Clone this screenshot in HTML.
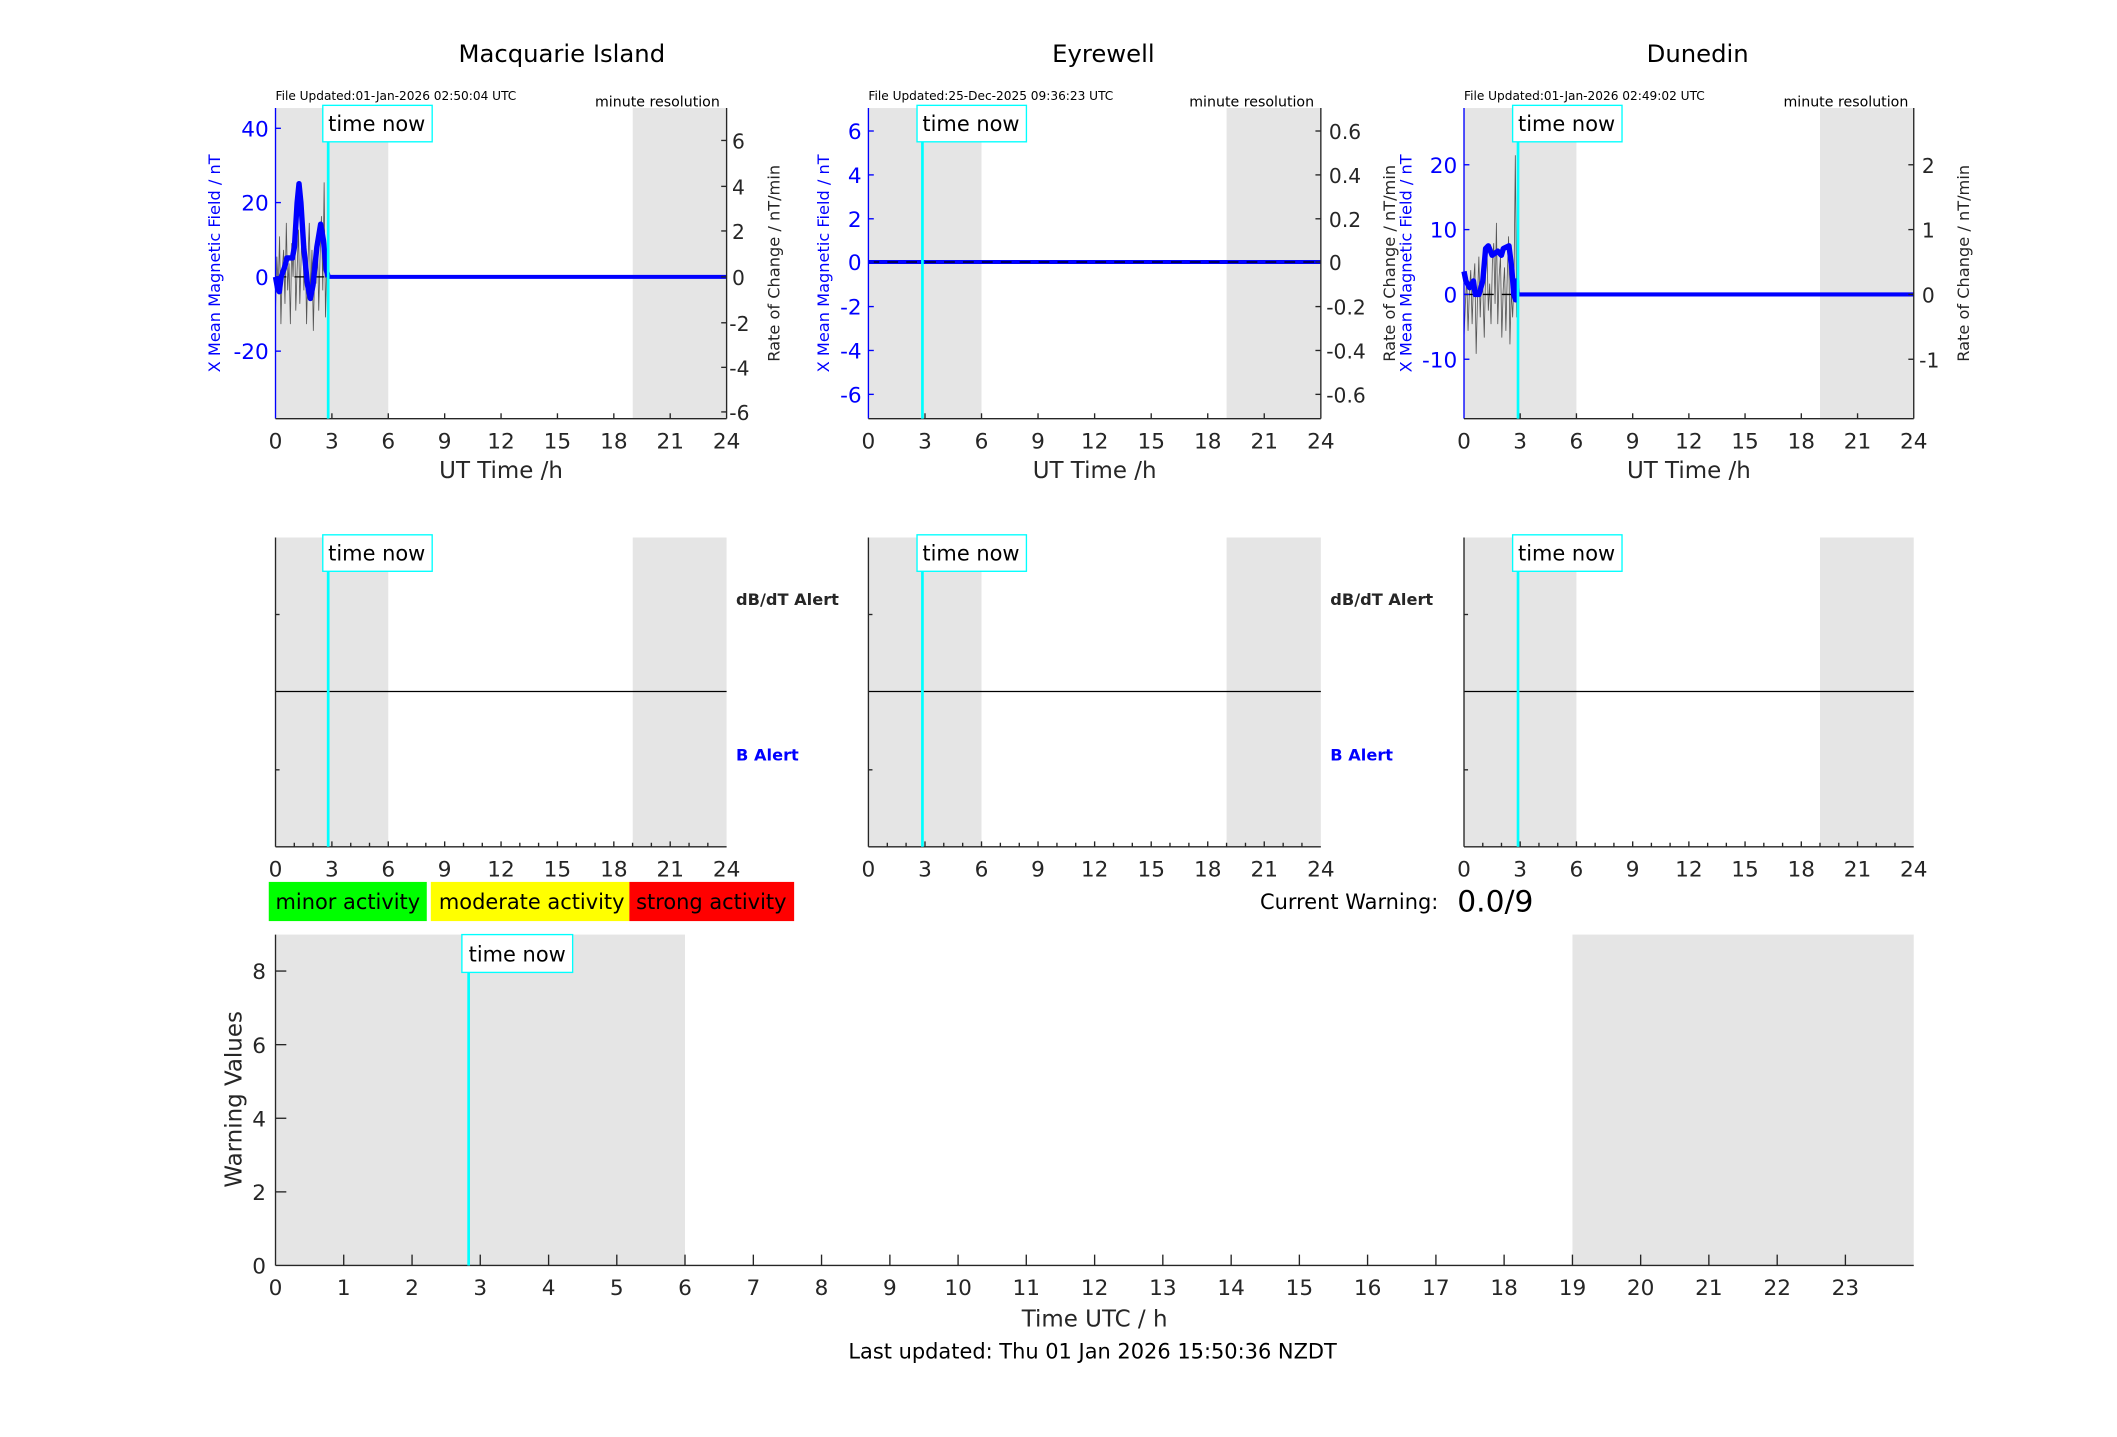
<!DOCTYPE html>
<html><head><meta charset="utf-8">
<style>
html,body{margin:0;padding:0;background:#fff;}
svg{display:block;}
text{font-family:"DejaVu Sans","Liberation Sans",sans-serif;}
</style></head>
<body>
<svg width="2117" height="1437" viewBox="0 0 1567.5 1064" preserveAspectRatio="none" xmlns="http://www.w3.org/2000/svg">
<rect width="1567.5" height="1064" fill="#fff"/>

<!-- ===== Titles ===== -->
<g font-size="18" text-anchor="middle" fill="#000">
<text x="416" y="46">Macquarie Island</text>
<text x="817" y="46">Eyrewell</text>
<text x="1257" y="46">Dunedin</text>
</g>

<!-- ===== Panel 1 top ===== -->
<g>
<rect x="204" y="80" width="83.5" height="230" fill="#e5e5e5"/>
<rect x="468.5" y="80" width="69.5" height="230" fill="#e5e5e5"/>
<text x="204" y="74" font-size="9" fill="#000">File Updated:01-Jan-2026 02:50:04 UTC</text>
<text x="533" y="79" font-size="10.5" text-anchor="end" fill="#000">minute resolution</text>
<polyline fill="none" stroke="#555" stroke-width="0.6" points="204,230 205,190 206,215 207,175 208,240 209,200 210,185 211,225 212,165 213,215 214,195 215,240 216,180 217,205 218,160 219,230 220,200 221,170 222,225 223,190 224,150 225,215 226,180 227,240 228,195 229,165 230,220 231,185 232,245 233,200 234,210 235,175 236,230 237,190 238,160 239,215 240,135 241,235 242,195 243,205"/>
<line x1="204" y1="205" x2="538" y2="205" stroke="#000" stroke-width="1" stroke-dasharray="8,6"/>
<line x1="243" y1="205" x2="538" y2="205" stroke="#0000ff" stroke-width="3"/>
<polyline fill="none" stroke="#0000ff" stroke-width="4" stroke-linejoin="round" points="204,205 205.4,213 206.8,216 208.2,205 211,197 212.4,191 216.5,191 218,183 220,150 221.4,136 222.8,150 224.9,183 227.7,211 229.8,221 231.8,211 234.6,183 237.4,166 239.5,178 241.6,200 243,205"/>
<line x1="204" y1="80" x2="204" y2="310" stroke="#0000ff" stroke-width="1"/>
<line x1="538" y1="80" x2="538" y2="310" stroke="#262626" stroke-width="1"/>
<line x1="204" y1="310" x2="538" y2="310" stroke="#262626" stroke-width="1"/>
<g stroke="#0000ff"><line x1="204" y1="95" x2="208" y2="95"/><line x1="204" y1="150" x2="208" y2="150"/><line x1="204" y1="205" x2="208" y2="205"/><line x1="204" y1="260" x2="208" y2="260"/></g>
<g stroke="#262626"><line x1="534" y1="104" x2="538" y2="104"/><line x1="534" y1="138" x2="538" y2="138"/><line x1="534" y1="171" x2="538" y2="171"/><line x1="534" y1="205" x2="538" y2="205"/><line x1="534" y1="239" x2="538" y2="239"/><line x1="534" y1="272" x2="538" y2="272"/><line x1="534" y1="305" x2="538" y2="305"/>
<line x1="245.75" y1="310" x2="245.75" y2="306"/><line x1="287.5" y1="310" x2="287.5" y2="306"/><line x1="329.25" y1="310" x2="329.25" y2="306"/><line x1="371" y1="310" x2="371" y2="306"/><line x1="412.75" y1="310" x2="412.75" y2="306"/><line x1="454.5" y1="310" x2="454.5" y2="306"/><line x1="496.25" y1="310" x2="496.25" y2="306"/></g>
<g font-size="16" fill="#0000ff" text-anchor="end"><text x="199" y="101">40</text><text x="199" y="156">20</text><text x="199" y="211">0</text><text x="199" y="266">-20</text></g>
<g font-size="15" fill="#262626"><text x="542" y="110">6</text><text x="542" y="144">4</text><text x="542" y="177">2</text><text x="542" y="211">0</text><text x="540" y="245">-2</text><text x="540" y="278">-4</text><text x="540" y="311">-6</text></g>
<g font-size="16" fill="#262626" text-anchor="middle"><text x="204" y="332">0</text><text x="245.75" y="332">3</text><text x="287.5" y="332">6</text><text x="329.25" y="332">9</text><text x="371" y="332">12</text><text x="412.75" y="332">15</text><text x="454.5" y="332">18</text><text x="496.25" y="332">21</text><text x="538" y="332">24</text></g>
<text x="371" y="354" font-size="17" fill="#262626" text-anchor="middle">UT Time /h</text>
<text transform="translate(163,195) rotate(-90)" font-size="12" fill="#0000ff" text-anchor="middle">X Mean Magnetic Field / nT</text>
<text transform="translate(577,195) rotate(-90)" font-size="12" fill="#262626" text-anchor="middle">Rate of Change / nT/min</text>
<line x1="243" y1="80" x2="243" y2="310" stroke="#00ffff" stroke-width="2"/>
<rect x="239" y="78" width="81" height="27" fill="#fff" stroke="#00ffff" stroke-width="1"/>
<text x="243" y="97" font-size="15.5" fill="#000">time now</text>
</g>

<!-- ===== Panel 2 top ===== -->
<g>
<rect x="643" y="80" width="83.75" height="230" fill="#e5e5e5"/>
<rect x="908.2" y="80" width="69.8" height="230" fill="#e5e5e5"/>
<text x="643" y="74" font-size="9" fill="#000">File Updated:25-Dec-2025 09:36:23 UTC</text>
<text x="973" y="79" font-size="10.5" text-anchor="end" fill="#000">minute resolution</text>
<line x1="643" y1="194" x2="978" y2="194" stroke="#0000ff" stroke-width="3"/>
<line x1="643" y1="194" x2="978" y2="194" stroke="#000" stroke-width="1" stroke-dasharray="8,6"/>
<line x1="643" y1="80" x2="643" y2="310" stroke="#0000ff"/>
<line x1="978" y1="80" x2="978" y2="310" stroke="#262626"/>
<line x1="643" y1="310" x2="978" y2="310" stroke="#262626"/>
<g stroke="#0000ff"><line x1="643" y1="97" x2="647" y2="97"/><line x1="643" y1="129.5" x2="647" y2="129.5"/><line x1="643" y1="162" x2="647" y2="162"/><line x1="643" y1="194" x2="647" y2="194"/><line x1="643" y1="227" x2="647" y2="227"/><line x1="643" y1="259.5" x2="647" y2="259.5"/><line x1="643" y1="292" x2="647" y2="292"/></g>
<g stroke="#262626"><line x1="974" y1="97" x2="978" y2="97"/><line x1="974" y1="129.5" x2="978" y2="129.5"/><line x1="974" y1="162" x2="978" y2="162"/><line x1="974" y1="194" x2="978" y2="194"/><line x1="974" y1="227" x2="978" y2="227"/><line x1="974" y1="259.5" x2="978" y2="259.5"/><line x1="974" y1="292" x2="978" y2="292"/>
<line x1="684.9" y1="310" x2="684.9" y2="306"/><line x1="726.75" y1="310" x2="726.75" y2="306"/><line x1="768.6" y1="310" x2="768.6" y2="306"/><line x1="810.5" y1="310" x2="810.5" y2="306"/><line x1="852.4" y1="310" x2="852.4" y2="306"/><line x1="894.25" y1="310" x2="894.25" y2="306"/><line x1="936.1" y1="310" x2="936.1" y2="306"/></g>
<g font-size="16" fill="#0000ff" text-anchor="end"><text x="638" y="103">6</text><text x="638" y="135.5">4</text><text x="638" y="168">2</text><text x="638" y="200">0</text><text x="638" y="233">-2</text><text x="638" y="265.5">-4</text><text x="638" y="298">-6</text></g>
<g font-size="15" fill="#262626"><text x="984" y="103">0.6</text><text x="984" y="135.5">0.4</text><text x="984" y="168">0.2</text><text x="984" y="200">0</text><text x="982" y="233">-0.2</text><text x="982" y="265.5">-0.4</text><text x="982" y="298">-0.6</text></g>
<g font-size="16" fill="#262626" text-anchor="middle"><text x="643" y="332">0</text><text x="684.9" y="332">3</text><text x="726.75" y="332">6</text><text x="768.6" y="332">9</text><text x="810.5" y="332">12</text><text x="852.4" y="332">15</text><text x="894.25" y="332">18</text><text x="936.1" y="332">21</text><text x="978" y="332">24</text></g>
<text x="810.5" y="354" font-size="17" fill="#262626" text-anchor="middle">UT Time /h</text>
<text transform="translate(614,195) rotate(-90)" font-size="12" fill="#0000ff" text-anchor="middle">X Mean Magnetic Field / nT</text>
<text transform="translate(1033,195) rotate(-90)" font-size="12" fill="#262626" text-anchor="middle">Rate of Change / nT/min</text>
<line x1="683" y1="80" x2="683" y2="310" stroke="#00ffff" stroke-width="2"/>
<rect x="679" y="78" width="81" height="27" fill="#fff" stroke="#00ffff"/>
<text x="683" y="97" font-size="15.5" fill="#000">time now</text>
</g>

<!-- ===== Panel 3 top ===== -->
<g>
<rect x="1084" y="80" width="83.25" height="230" fill="#e5e5e5"/>
<rect x="1347.6" y="80" width="69.4" height="230" fill="#e5e5e5"/>
<text x="1084" y="74" font-size="9" fill="#000">File Updated:01-Jan-2026 02:49:02 UTC</text>
<text x="1413" y="79" font-size="10.5" text-anchor="end" fill="#000">minute resolution</text>
<polyline fill="none" stroke="#555" stroke-width="0.6" points="1084,250 1085,225 1086,205 1087,245 1088,215 1089,200 1090,240 1091,210 1092,195 1093,262 1094,220 1095,190 1096,235 1097,205 1098,215 1099,250 1100,200 1101,185 1102,230 1103,210 1104,240 1105,195 1106,180 1107,225 1108,165 1109,240 1110,205 1111,190 1112,250 1113,215 1114,198 1115,245 1116,205 1117,175 1118,255 1119,215 1120,235 1121,210 1122,115 1123,235 1124,218"/>
<line x1="1084" y1="218" x2="1417" y2="218" stroke="#000" stroke-width="1" stroke-dasharray="8,6"/>
<line x1="1124" y1="218" x2="1417" y2="218" stroke="#0000ff" stroke-width="3"/>
<polyline fill="none" stroke="#0000ff" stroke-width="4" stroke-linejoin="round" points="1084,201 1085.4,208 1088.2,213 1091,208 1092.3,218 1095.1,218 1097.9,208 1100,184 1102,182 1104.8,189 1109,186 1111.7,189 1113.1,184 1117.3,182 1119.4,199 1120.8,218 1122.2,222 1122.9,208 1123.3,218"/>
<line x1="1084" y1="80" x2="1084" y2="310" stroke="#0000ff"/>
<line x1="1417" y1="80" x2="1417" y2="310" stroke="#262626"/>
<line x1="1084" y1="310" x2="1417" y2="310" stroke="#262626"/>
<g stroke="#0000ff"><line x1="1084" y1="122" x2="1088" y2="122"/><line x1="1084" y1="170" x2="1088" y2="170"/><line x1="1084" y1="218" x2="1088" y2="218"/><line x1="1084" y1="266" x2="1088" y2="266"/></g>
<g stroke="#262626"><line x1="1413" y1="122" x2="1417" y2="122"/><line x1="1413" y1="170" x2="1417" y2="170"/><line x1="1413" y1="218" x2="1417" y2="218"/><line x1="1413" y1="266" x2="1417" y2="266"/>
<line x1="1125.6" y1="310" x2="1125.6" y2="306"/><line x1="1167.25" y1="310" x2="1167.25" y2="306"/><line x1="1208.9" y1="310" x2="1208.9" y2="306"/><line x1="1250.5" y1="310" x2="1250.5" y2="306"/><line x1="1292.1" y1="310" x2="1292.1" y2="306"/><line x1="1333.75" y1="310" x2="1333.75" y2="306"/><line x1="1375.4" y1="310" x2="1375.4" y2="306"/></g>
<g font-size="16" fill="#0000ff" text-anchor="end"><text x="1079" y="128">20</text><text x="1079" y="176">10</text><text x="1079" y="224">0</text><text x="1079" y="272">-10</text></g>
<g font-size="15" fill="#262626"><text x="1423" y="128">2</text><text x="1423" y="176">1</text><text x="1423" y="224">0</text><text x="1421" y="272">-1</text></g>
<g font-size="16" fill="#262626" text-anchor="middle"><text x="1084" y="332">0</text><text x="1125.6" y="332">3</text><text x="1167.25" y="332">6</text><text x="1208.9" y="332">9</text><text x="1250.5" y="332">12</text><text x="1292.1" y="332">15</text><text x="1333.75" y="332">18</text><text x="1375.4" y="332">21</text><text x="1417" y="332">24</text></g>
<text x="1250.5" y="354" font-size="17" fill="#262626" text-anchor="middle">UT Time /h</text>
<text transform="translate(1045,195) rotate(-90)" font-size="12" fill="#0000ff" text-anchor="middle">X Mean Magnetic Field / nT</text>
<text transform="translate(1458,195) rotate(-90)" font-size="12" fill="#262626" text-anchor="middle">Rate of Change / nT/min</text>
<line x1="1124" y1="80" x2="1124" y2="310" stroke="#00ffff" stroke-width="2"/>
<rect x="1120" y="78" width="81" height="27" fill="#fff" stroke="#00ffff"/>
<text x="1124" y="97" font-size="15.5" fill="#000">time now</text>
</g>

<!-- ===== Middle panels ===== -->
<g>
<rect x="204" y="398" width="83.5" height="229" fill="#e5e5e5"/>
<rect x="468.5" y="398" width="69.5" height="229" fill="#e5e5e5"/>
<line x1="204" y1="512" x2="538" y2="512" stroke="#000"/>
<line x1="204" y1="398" x2="204" y2="627" stroke="#262626"/>
<line x1="204" y1="627" x2="538" y2="627" stroke="#262626"/>
<g stroke="#262626"><line x1="204" y1="455" x2="207" y2="455"/><line x1="204" y1="570" x2="207" y2="570"/>
<path d="M217.9 627v-3M231.8 627v-3M245.75 627v-4M259.7 627v-3M273.6 627v-3M287.5 627v-4M301.4 627v-3M315.3 627v-3M329.25 627v-4M343.2 627v-3M357.1 627v-3M371 627v-4M384.9 627v-3M398.8 627v-3M412.75 627v-4M426.7 627v-3M440.6 627v-3M454.5 627v-4M468.4 627v-3M482.3 627v-3M496.25 627v-4M510.2 627v-3M524.1 627v-3"/></g>
<g font-size="16" fill="#262626" text-anchor="middle"><text x="204" y="649">0</text><text x="245.75" y="649">3</text><text x="287.5" y="649">6</text><text x="329.25" y="649">9</text><text x="371" y="649">12</text><text x="412.75" y="649">15</text><text x="454.5" y="649">18</text><text x="496.25" y="649">21</text><text x="538" y="649">24</text></g>
<text x="545" y="448" font-size="12" font-weight="bold" fill="#262626">dB/dT Alert</text>
<text x="545" y="563" font-size="12" font-weight="bold" fill="#0000ff">B Alert</text>
<line x1="243" y1="398" x2="243" y2="627" stroke="#00ffff" stroke-width="2"/>
<rect x="239" y="396" width="81" height="27" fill="#fff" stroke="#00ffff"/>
<text x="243" y="415" font-size="15.5" fill="#000">time now</text>
</g>
<g>
<rect x="643" y="398" width="83.75" height="229" fill="#e5e5e5"/>
<rect x="908.2" y="398" width="69.8" height="229" fill="#e5e5e5"/>
<line x1="643" y1="512" x2="978" y2="512" stroke="#000"/>
<line x1="643" y1="398" x2="643" y2="627" stroke="#262626"/>
<line x1="643" y1="627" x2="978" y2="627" stroke="#262626"/>
<g stroke="#262626"><line x1="643" y1="455" x2="646" y2="455"/><line x1="643" y1="570" x2="646" y2="570"/>
<path d="M657 627v-3M670.9 627v-3M684.9 627v-4M698.8 627v-3M712.8 627v-3M726.75 627v-4M740.7 627v-3M754.7 627v-3M768.6 627v-4M782.6 627v-3M796.5 627v-3M810.5 627v-4M824.5 627v-3M838.4 627v-3M852.4 627v-4M866.3 627v-3M880.3 627v-3M894.25 627v-4M908.2 627v-3M922.2 627v-3M936.1 627v-4M950.1 627v-3M964 627v-3"/></g>
<g font-size="16" fill="#262626" text-anchor="middle"><text x="643" y="649">0</text><text x="684.9" y="649">3</text><text x="726.75" y="649">6</text><text x="768.6" y="649">9</text><text x="810.5" y="649">12</text><text x="852.4" y="649">15</text><text x="894.25" y="649">18</text><text x="936.1" y="649">21</text><text x="978" y="649">24</text></g>
<text x="985" y="448" font-size="12" font-weight="bold" fill="#262626">dB/dT Alert</text>
<text x="985" y="563" font-size="12" font-weight="bold" fill="#0000ff">B Alert</text>
<line x1="683" y1="398" x2="683" y2="627" stroke="#00ffff" stroke-width="2"/>
<rect x="679" y="396" width="81" height="27" fill="#fff" stroke="#00ffff"/>
<text x="683" y="415" font-size="15.5" fill="#000">time now</text>
</g>
<g>
<rect x="1084" y="398" width="83.25" height="229" fill="#e5e5e5"/>
<rect x="1347.6" y="398" width="69.4" height="229" fill="#e5e5e5"/>
<line x1="1084" y1="512" x2="1417" y2="512" stroke="#000"/>
<line x1="1084" y1="398" x2="1084" y2="627" stroke="#262626"/>
<line x1="1084" y1="627" x2="1417" y2="627" stroke="#262626"/>
<g stroke="#262626"><line x1="1084" y1="455" x2="1087" y2="455"/><line x1="1084" y1="570" x2="1087" y2="570"/>
<path d="M1097.9 627v-3M1111.75 627v-3M1125.6 627v-4M1139.5 627v-3M1153.4 627v-3M1167.25 627v-4M1181.1 627v-3M1195 627v-3M1208.9 627v-4M1222.75 627v-3M1236.6 627v-3M1250.5 627v-4M1264.4 627v-3M1278.25 627v-3M1292.1 627v-4M1306 627v-3M1319.9 627v-3M1333.75 627v-4M1347.6 627v-3M1361.5 627v-3M1375.4 627v-4M1389.25 627v-3M1403.1 627v-3"/></g>
<g font-size="16" fill="#262626" text-anchor="middle"><text x="1084" y="649">0</text><text x="1125.6" y="649">3</text><text x="1167.25" y="649">6</text><text x="1208.9" y="649">9</text><text x="1250.5" y="649">12</text><text x="1292.1" y="649">15</text><text x="1333.75" y="649">18</text><text x="1375.4" y="649">21</text><text x="1417" y="649">24</text></g>
<line x1="1124" y1="398" x2="1124" y2="627" stroke="#00ffff" stroke-width="2"/>
<rect x="1120" y="396" width="81" height="27" fill="#fff" stroke="#00ffff"/>
<text x="1124" y="415" font-size="15.5" fill="#000">time now</text>
</g>

<!-- ===== Legend ===== -->
<rect x="199" y="653" width="117" height="29" fill="#00ff00"/>
<rect x="319" y="653" width="147" height="29" fill="#ffff00"/>
<rect x="466" y="653" width="122" height="29" fill="#ff0000"/>
<g font-size="15.5" fill="#000"><text x="204" y="673">minor activity</text><text x="325" y="673">moderate activity</text><text x="471" y="673">strong activity</text></g>
<text x="1065" y="673" font-size="15.5" fill="#000" text-anchor="end">Current Warning:</text>
<text x="1079" y="675" font-size="22" fill="#000">0.0/9</text>

<!-- ===== Bottom panel ===== -->
<g>
<rect x="204" y="692" width="303.2" height="245" fill="#e5e5e5"/>
<rect x="1164.3" y="692" width="252.7" height="245" fill="#e5e5e5"/>
<line x1="204" y1="692" x2="204" y2="937" stroke="#262626"/>
<line x1="204" y1="937" x2="1417" y2="937" stroke="#262626"/>
<g stroke="#262626"><line x1="204" y1="719" x2="212" y2="719"/><line x1="204" y1="773.5" x2="212" y2="773.5"/><line x1="204" y1="828" x2="212" y2="828"/><line x1="204" y1="882.5" x2="212" y2="882.5"/>
<path d="M254.5 937v-8M305.1 937v-8M355.6 937v-8M406.2 937v-8M456.7 937v-8M507.2 937v-8M557.8 937v-8M608.3 937v-8M658.9 937v-8M709.4 937v-8M759.9 937v-8M810.5 937v-8M861 937v-8M911.6 937v-8M962.1 937v-8M1012.6 937v-8M1063.2 937v-8M1113.7 937v-8M1164.3 937v-8M1214.8 937v-8M1265.3 937v-8M1315.9 937v-8M1366.4 937v-8"/></g>
<g font-size="16" fill="#262626" text-anchor="end"><text x="197" y="725">8</text><text x="197" y="779.5">6</text><text x="197" y="834">4</text><text x="197" y="888.5">2</text><text x="197" y="943">0</text></g>
<g font-size="16" fill="#262626" text-anchor="middle">
<text x="204" y="959">0</text><text x="254.5" y="959">1</text><text x="305.1" y="959">2</text><text x="355.6" y="959">3</text><text x="406.2" y="959">4</text><text x="456.7" y="959">5</text><text x="507.2" y="959">6</text><text x="557.8" y="959">7</text><text x="608.3" y="959">8</text><text x="658.9" y="959">9</text><text x="709.4" y="959">10</text><text x="759.9" y="959">11</text><text x="810.5" y="959">12</text><text x="861" y="959">13</text><text x="911.6" y="959">14</text><text x="962.1" y="959">15</text><text x="1012.6" y="959">16</text><text x="1063.2" y="959">17</text><text x="1113.7" y="959">18</text><text x="1164.3" y="959">19</text><text x="1214.8" y="959">20</text><text x="1265.3" y="959">21</text><text x="1315.9" y="959">22</text><text x="1366.4" y="959">23</text></g>
<text x="810.5" y="982" font-size="17" fill="#262626" text-anchor="middle">Time UTC / h</text>
<text transform="translate(179,814) rotate(-90)" font-size="17" fill="#262626" text-anchor="middle">Warning Values</text>
<line x1="347" y1="692" x2="347" y2="937" stroke="#00ffff" stroke-width="2"/>
<rect x="342" y="692" width="82" height="28" fill="#fff" stroke="#00ffff"/>
<text x="347" y="712" font-size="15.5" fill="#000">time now</text>
</g>
<text x="809" y="1006" font-size="15.5" fill="#000" text-anchor="middle">Last updated: Thu 01 Jan 2026 15:50:36 NZDT</text>
</svg>
</body></html>
